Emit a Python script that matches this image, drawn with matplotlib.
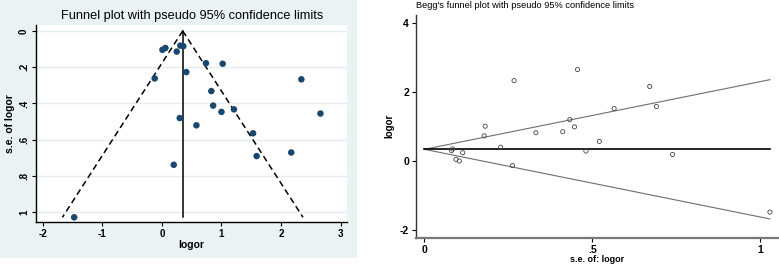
import numpy as np
import matplotlib
matplotlib.use("Agg")
import matplotlib.pyplot as plt

plt.rcParams['font.family'] = ['Liberation Sans', 'DejaVu Sans']
plt.rcParams['axes.unicode_minus'] = False

# data: log odds ratio and its standard error per study
logor = [0.31, 0.36, 0.06, 0.01, 0.25, 0.74, 1.02, 0.41, -0.12, 2.34, 0.83,
         0.86, 1.21, 1.00, 2.66, 0.30, 0.58, 1.53, 2.17, 1.59, 0.20, -1.47]
se = [0.081, 0.084, 0.094, 0.104, 0.114, 0.178, 0.181, 0.227, 0.262, 0.267, 0.332,
      0.412, 0.433, 0.447, 0.456, 0.481, 0.521, 0.565, 0.671, 0.691, 0.739, 1.029]
pooled = 0.35
se_max = 1.029

left_xticks = [-2, -1, 0, 1, 2, 3]
left_yticks = [0, 0.2, 0.4, 0.6, 0.8, 1]
left_ylabels = ['0', '.2', '.4', '.6', '.8', '1']
right_xticks = [0, 0.5, 1]
right_xlabels = ['0', '.5', '1']
right_yticks = [-2, 0, 2, 4]

W, H = 779, 265
fig = plt.figure(figsize=(W / 100, H / 100), dpi=100)
fig.patch.set_facecolor('white')

def box(x0, y0, x1, y1):
    return [x0 / W, 1 - y1 / H, (x1 - x0) / W, (y1 - y0) / H]

# left panel background (behind everything)
bg = fig.add_axes(box(0, 0, 357, 258), zorder=-10)
bg.set_facecolor('#eaf2f3')
bg.set_xticks([])
bg.set_yticks([])
for s in bg.spines.values():
    s.set_visible(False)

# ---------- Left: Stata funnel plot ----------
ax1 = fig.add_axes(box(36, 25, 347, 222), zorder=1)
ax1.set_facecolor('white')
se_line = np.array([0, se_max])
for y in left_yticks:
    ax1.axhline(y, color='#e4edef', lw=1.0, zorder=0)
ax1.plot(pooled - 1.96 * se_line, se_line, color='black', ls=(0, (4, 2.5)), lw=1.1)
ax1.plot(pooled + 1.96 * se_line, se_line, color='black', ls=(0, (4, 2.5)), lw=1.1)
ax1.plot([pooled, pooled], se_line, color='black', lw=1.1)
ax1.scatter(logor, se, s=22, color='#1a476f', edgecolors='none', zorder=3)
ax1.set_xlim(-2.11, 3.105)
ax1.set_ylim(1.055, -0.033)
ax1.set_xticks(left_xticks)
ax1.set_xticklabels([str(t) for t in left_xticks], fontweight='bold')
ax1.set_yticks(left_yticks)
ax1.set_yticklabels(left_ylabels, rotation=90, va='center', fontweight='bold')
for s in ['top', 'right']:
    ax1.spines[s].set_visible(False)
for s in ['left', 'bottom']:
    ax1.spines[s].set_color('black')
    ax1.spines[s].set_linewidth(1.0)
ax1.tick_params(length=3, width=0.8, labelsize=7, pad=2, colors='black')
ax1.set_xlabel('logor', fontsize=7.5, labelpad=1, fontweight='bold')
ax1.set_ylabel('s.e. of logor', fontsize=7.5, labelpad=3, fontweight='bold')
fig.text(192 / W, 1 - 16 / H, 'Funnel plot with pseudo 95% confidence limits',
         ha='center', va='center', fontsize=9.2)

# ---------- Right: Begg's funnel plot ----------
ax2 = fig.add_axes(box(416, 15, 778, 237.7))
ax2.plot(se_line, pooled + 1.96 * se_line, color='#6e6e6e', lw=0.8)
ax2.plot(se_line, pooled - 1.96 * se_line, color='#6e6e6e', lw=0.8)
ax2.plot(se_line, [pooled, pooled], color='black', lw=1.2)
ax2.scatter(se, logor, s=9, facecolors='none', edgecolors='#444444', linewidths=0.6, zorder=3)
ax2.set_xlim(-0.025, 1.053)
ax2.set_ylim(-2.21, 4.24)
ax2.set_xticks(right_xticks)
ax2.set_xticklabels(right_xlabels, fontweight='bold')
ax2.set_yticks(right_yticks)
ax2.set_yticklabels([str(t) for t in right_yticks], fontweight='bold')
for s in ['top', 'right']:
    ax2.spines[s].set_visible(False)
ax2.spines['left'].set_color('#333333')
ax2.spines['left'].set_linewidth(1.0)
ax2.spines['bottom'].set_color('#777777')
ax2.spines['bottom'].set_linewidth(1.6)
ax2.tick_params(length=3, width=0.8, labelsize=7.5, pad=2, colors='black')
ax2.set_xlabel('s.e. of: logor', fontsize=6.5, labelpad=0, fontweight='bold')
ax2.set_ylabel('logor', fontsize=7, labelpad=4, fontweight='bold')
fig.text(416 / W, 1 - 5 / H, "Begg's funnel plot with pseudo 95% confidence limits",
         ha='left', va='center', fontsize=6.7)

fig.savefig('out.png', dpi=100)
